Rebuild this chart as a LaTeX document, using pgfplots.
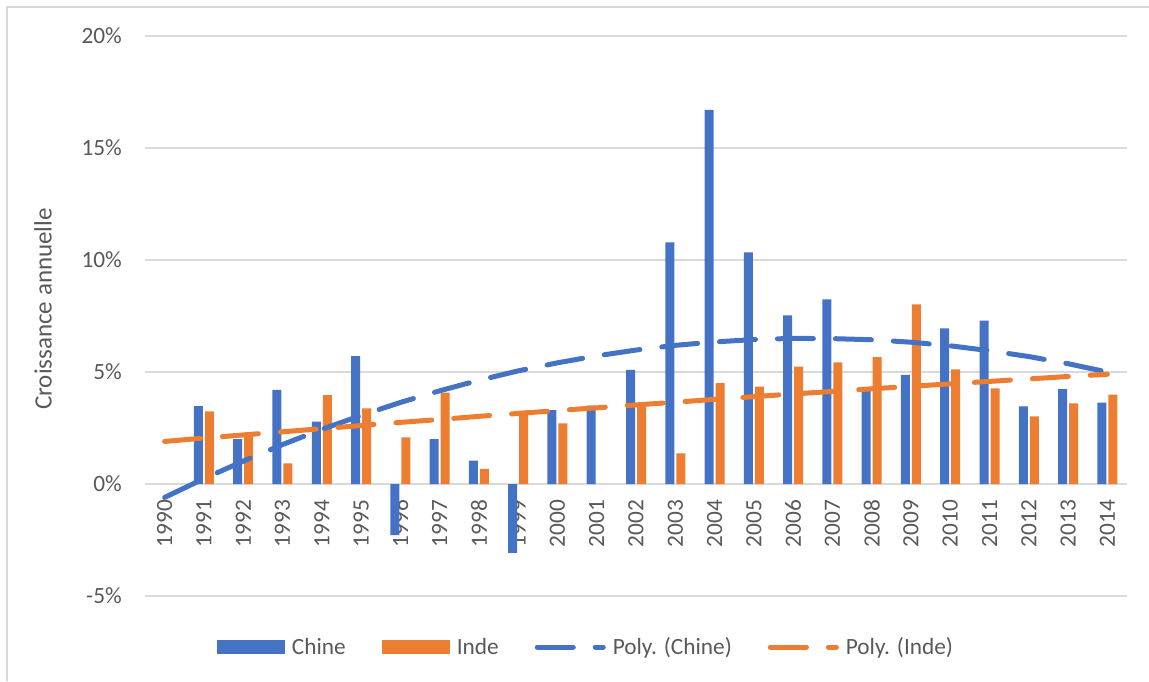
\documentclass[border=0pt]{standalone}
\usepackage{fontspec}
\setmainfont{Carlito}
\usepackage{pgfplots}
\pgfplotsset{compat=1.18}
\definecolor{cblue}{HTML}{4472C4}
\definecolor{corange}{HTML}{ED7D31}
\definecolor{cgrid}{HTML}{D9D9D9}
\definecolor{ctext}{HTML}{595959}
\begin{document}
\begin{tikzpicture}[x=1pt,y=1pt]
\useasboundingbox (0,0) rectangle (1149,681);
\draw[cgrid, line width=1.5pt] (7,0) -- (7,674) -- (1149,674);
\begin{axis}[
  at={(145pt,85pt)}, anchor=south west,
  scale only axis, width=982pt, height=560pt,
  xmin=-0.5, xmax=24.5, ymin=-5, ymax=20,
  axis x line*=middle, axis y line*=left,
  x axis line style={draw=cgrid, line width=1.3pt},
  y axis line style={draw=none},
  hide obscured x ticks=false, hide obscured y ticks=false,
  major tick length=0pt, tick style={draw=none},
  ymajorgrids, grid style={cgrid, line width=1.3pt},
  ytick={-5,0,5,10,15,20},
  yticklabels={-5\%,0\%,5\%,10\%,15\%,20\%},
  xtick={0,1,...,24},
  xticklabels={1990,1991,1992,1993,1994,1995,1996,1997,1998,1999,2000,2001,2002,2003,2004,2005,2006,2007,2008,2009,2010,2011,2012,2013,2014},
  ticklabel style={font=\fontsize{23.3}{28}\selectfont, text=ctext, inner sep=0pt},
  xticklabel style={rotate=90, anchor=east},
  xticklabel shift=16pt,
  yticklabel style={anchor=east},
  yticklabel shift=23pt,
  ylabel={Croissance annuelle},
  ylabel style={at={(axis description cs:-0.1039,0.5125)}, anchor=center, font=\fontsize{25}{30}\selectfont, text=ctext, inner sep=0pt},
  legend columns=4,
  legend style={at={(axis description cs:0.0733,-0.0911)}, anchor=west, draw=none, fill=none,
    inner sep=0pt, outer sep=0pt, font=\fontsize{23.3}{28}\selectfont, text=ctext,
    nodes={inner sep=0pt},
    /tikz/every odd column/.append style={column sep=7pt},
    /tikz/every even column/.append style={column sep=36pt}},
  legend cell align=left,
]
\addplot[ybar, bar width=9pt, bar shift=-5.5pt, fill=cblue, draw=none,
  legend image code/.code={\fill[cblue] (0pt,-7pt) rectangle (68pt,7pt);}]
coordinates {
(1,3.48) (2,2.00) (3,4.20) (4,2.78) (5,5.71) (6,-2.28) (7,2.00) (8,1.04) (9,-3.07) (10,3.30)
(11,3.50) (12,5.09) (13,10.79) (14,16.70) (15,10.34) (16,7.53) (17,8.24) (18,4.30) (19,4.87)
(20,6.95) (21,7.29) (22,3.47) (23,4.23) (24,3.63)
};
\addlegendentry{Chine}
\addplot[ybar, bar width=9pt, bar shift=5.5pt, fill=corange, draw=none,
  legend image code/.code={\fill[corange] (0pt,-7pt) rectangle (68pt,7pt);}]
coordinates {
(1,3.24) (2,2.20) (3,0.92) (4,3.97) (5,3.38) (6,2.08) (7,4.08) (8,0.67) (9,3.27) (10,2.71)
(12,3.50) (13,1.37) (14,4.50) (15,4.35) (16,5.24) (17,5.43) (18,5.66) (19,8.02)
(20,5.12) (21,4.27) (22,3.02) (23,3.60) (24,3.99)
};
\addlegendentry{Inde}
\addplot[cblue, line width=5pt, line cap=round, dash pattern=on 36pt off 22pt,
  legend image code/.code={\path[draw=none, fill=none] (0pt,-7pt) rectangle (68pt,7pt); \draw[cblue, solid, line width=5pt, line cap=round, dash pattern=on 36pt off 22pt] (2.5pt,0pt) -- (68.5pt,0pt);}]
coordinates {
(0,-0.60) (1,0.24) (2,1.02) (3,1.76) (4,2.44) (5,3.06) (6,3.64) (7,4.16) (8,4.63) (9,5.05)
(10,5.41) (11,5.72) (12,5.98) (13,6.19) (14,6.34) (15,6.45) (16,6.50) (17,6.49) (18,6.44)
(19,6.33) (20,6.17) (21,5.95) (22,5.69) (23,5.37) (24,5.00)
};
\addlegendentry{Poly. (Chine)}
\addplot[corange, line width=5pt, line cap=round, dash pattern=on 36pt off 22pt,
  legend image code/.code={\path[draw=none, fill=none] (0pt,-7pt) rectangle (68pt,7pt); \draw[corange, solid, line width=5pt, line cap=round, dash pattern=on 36pt off 22pt] (2.5pt,0pt) -- (68.5pt,0pt);}]
coordinates {
(0,1.90) (1,2.05) (2,2.19) (3,2.33) (4,2.47) (5,2.61) (6,2.75) (7,2.88) (8,3.02) (9,3.15)
(10,3.28) (11,3.40) (12,3.53) (13,3.65) (14,3.78) (15,3.90) (16,4.02) (17,4.13) (18,4.25)
(19,4.36) (20,4.47) (21,4.58) (22,4.69) (23,4.80) (24,4.90)
};
\addlegendentry{Poly. (Inde)}
\end{axis}
\end{tikzpicture}
\end{document}
